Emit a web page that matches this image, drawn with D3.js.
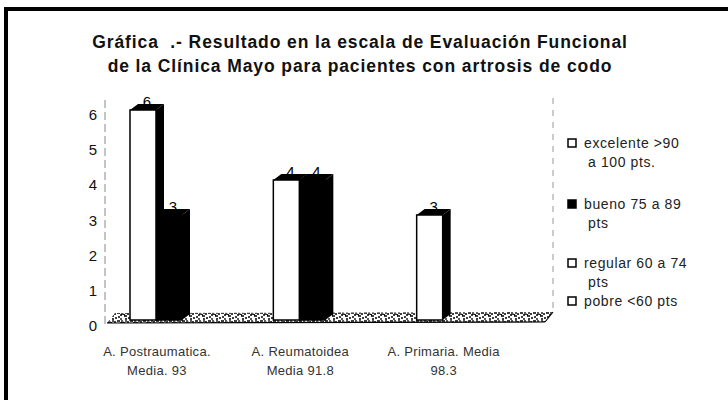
<!DOCTYPE html>
<html>
<head>
<meta charset="utf-8">
<script src="https://cdn.jsdelivr.net/npm/d3@7"></script>
<style>
  body { margin: 0; background: #fff; }
  text { font-family: "Liberation Sans", Arial, sans-serif; }
</style>
</head>
<body>
<svg id="chart" width="728" height="400"></svg>
<script>
// data
var categories = ["A. Postraumatica.|Media. 93", "A. Reumatoidea|Media 91.8", "A. Primaria. Media|98.3"];
var seriesNames = ["excelente >90|a 100 pts.", "bueno 75 a 89|pts", "regular 60 a 74|pts", "pobre <60 pts"];
var excelente = [6, 4, 3];
var bueno = [3, 4, 0];
var regular = [0, 0, 0];
var pobre = [0, 0, 0];
var yTicks = [0, 1, 2, 3, 4, 5, 6];

var seriesVals = [excelente, bueno, regular, pobre];
var seriesFill = ["#fff", "#000", "#fff", "#fff"];

var width = 728, height = 400;
var dx = 8, dy = -6; // 3d depth offset

var svg = d3.select("#chart");

// frame
svg.append("rect").attr("x", 6).attr("y", 9).attr("width", 730).attr("height", 400)
   .attr("fill", "none").attr("stroke", "#000").attr("stroke-width", 4);

// title
var title = ["Gráfica  .- Resultado en la escala de Evaluación Funcional",
             "de la Clínica Mayo para pacientes con artrosis de codo"];
svg.selectAll(".title").data(title).enter().append("text")
   .attr("class", "title")
   .attr("x", 360).attr("y", (d, i) => 48 + i * 24)
   .attr("text-anchor", "middle")
   .attr("font-size", "17.5px").attr("font-weight", "bold")
   .attr("letter-spacing", "0.9px")
   .attr("fill", "#111")
   .attr("xml:space", "preserve")
   .text(d => d);

// scales
var x0 = d3.scaleBand().domain(d3.range(categories.length)).range([130, 560]).paddingInner(0).paddingOuter(0);
var x1 = d3.scaleBand().domain(d3.range(seriesNames.length)).range([0, 104]);
var y = d3.scaleLinear().domain([0, 6]).range([320, 110]);
var yLab = d3.scaleLinear().domain([0, 6]).range([326, 115]);

// walls
svg.append("line").attr("x1", 105).attr("x2", 105).attr("y1", 100).attr("y2", 328)
   .attr("stroke", "#888").attr("stroke-dasharray", "8,4");
svg.append("line").attr("x1", 553).attr("x2", 553).attr("y1", 98).attr("y2", 310)
   .attr("stroke", "#999").attr("stroke-dasharray", "6,6");

// floor with speckle pattern
var defs = svg.append("defs");
var pat = defs.append("pattern").attr("id", "speck").attr("patternUnits", "userSpaceOnUse")
   .attr("width", 13).attr("height", 8);
pat.append("rect").attr("width", 13).attr("height", 8).attr("fill", "#fff");
pat.append("path").attr("d", "M0,1h3M5,0v3M7,4h3M1,5h2M6,2l2,1M9,0v2M3,3h2M11,6h2M4,6v2M10,2h2M8,7h2")
   .attr("stroke", "#000").attr("stroke-width", 1.3);
svg.append("path")
   .attr("d", "M107," + (y(0) + 3) + "L545," + (y(0) + 2) + "L553," + (y(0) - 8) + "L115," + (y(0) - 7) + "Z")
   .attr("fill", "url(#speck)");
svg.append("line").attr("x1", 107).attr("x2", 545).attr("y1", y(0) + 3).attr("y2", y(0) + 2)
   .attr("stroke", "#000").attr("stroke-width", 1.2);
svg.append("line").attr("x1", 545).attr("x2", 553).attr("y1", y(0) + 2).attr("y2", y(0) - 8)
   .attr("stroke", "#000").attr("stroke-width", 1.2);

// y axis labels
svg.selectAll(".ytick").data(yTicks).enter().append("text")
   .attr("class", "ytick")
   .attr("x", 97).attr("y", d => yLab(d) + 5)
   .attr("text-anchor", "end").attr("font-size", "15px").attr("fill", "#111")
   .text(d => d);

// bars
var bars = [];
categories.forEach(function(c, ci) {
  seriesVals.forEach(function(vals, si) {
    bars.push({ci: ci, si: si, v: vals[ci]});
  });
});

var gBars = svg.append("g");
bars.filter(d => d.v > 0).slice().reverse().forEach(function(d) {
  var bx = x0(d.ci) + x1(d.si), bw = x1.bandwidth();
  var top = y(d.v), base = y(0);
  var g = gBars.append("g");
  // side
  g.append("path")
   .attr("d", "M" + (bx + bw) + "," + top + "L" + (bx + bw + dx) + "," + (top + dy) + "L" + (bx + bw + dx) + "," + (base + dy) + "L" + (bx + bw) + "," + base + "Z")
   .attr("fill", "#000");
  // top
  g.append("path")
   .attr("d", "M" + bx + "," + top + "L" + (bx + dx) + "," + (top + dy) + "L" + (bx + bw + dx) + "," + (top + dy) + "L" + (bx + bw) + "," + top + "Z")
   .attr("fill", "#000");
  // front
  g.append("rect").attr("x", bx).attr("y", top).attr("width", bw).attr("height", base - top)
   .attr("fill", seriesFill[d.si]).attr("stroke", "#000").attr("stroke-width", 1.5);
  // value label
  g.append("text").attr("x", bx + bw / 2 + 4).attr("y", top - 3)
   .attr("text-anchor", "middle").attr("font-size", "15px").attr("fill", "#000")
   .text(d.v);
});

// category labels
var gCat = svg.append("g");
categories.forEach(function(c, ci) {
  var cx = x0(ci) + 27;
  c.split("|").forEach(function(line, li) {
    gCat.append("text").attr("x", cx).attr("y", 356 + li * 19)
      .attr("text-anchor", "middle").attr("font-size", "13px").attr("fill", "#333")
      .attr("letter-spacing", "0.3px")
      .text(line);
  });
});

// legend
var lg = svg.append("g");
var legY = [148, 209, 268, 306];
seriesNames.forEach(function(n, i) {
  lg.append("rect").attr("x", 568).attr("y", legY[i] - 9).attr("width", 8).attr("height", 8)
    .attr("fill", seriesFill[i]).attr("stroke", "#000").attr("stroke-width", 1.5);
  n.split("|").forEach(function(line, li) {
    lg.append("text").attr("x", li == 0 ? 584 : 588).attr("y", legY[i] + li * 19)
      .attr("font-size", "14px").attr("fill", "#222").attr("letter-spacing", "0.6px").text(line);
  });
});
</script>
</body>
</html>
